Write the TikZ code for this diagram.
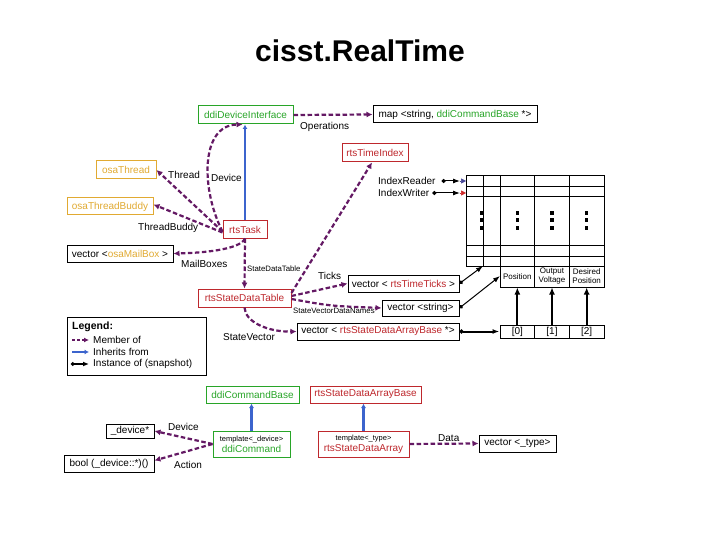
\documentclass[tikz,border=0pt]{standalone}
\usepackage{fontspec}
\setmainfont{Liberation Sans}
\usetikzlibrary{arrows.meta}
\definecolor{rred}{RGB}{190,40,45}
\definecolor{dgreen}{RGB}{40,165,40}
\definecolor{oyel}{RGB}{225,170,50}
\definecolor{mpur}{RGB}{100,25,100}
\definecolor{iblue}{RGB}{60,100,205}
\definecolor{rdblue}{RGB}{70,70,150}
\definecolor{wred}{RGB}{205,40,40}
\begin{document}
\begin{tikzpicture}[x=1pt,y=-1pt,
 box/.style={draw, line width=1pt, inner sep=1pt, minimum height=17pt, font=\fontsize{10}{11}\selectfont},
 rbox/.style={box, draw=rred, text=rred},
 gbox/.style={box, draw=dgreen, text=dgreen},
 obox/.style={box, draw=oyel, text=oyel},
 kbox/.style={box, draw=black, text=black},
 cell/.style={draw, line width=1pt, inner sep=0pt, minimum width=34.67pt, align=center},
 lbl/.style={font=\fontsize{10}{12}\selectfont, inner sep=0pt, anchor=west},
 slbl/.style={font=\fontsize{7.8}{9}\selectfont, inner sep=0pt, anchor=west},
 mem/.style={draw=mpur, line width=2.2pt, dash pattern=on 4.5pt off 2.5pt, -{Latex[length=6pt,width=6pt]}},
 inh/.style={draw=iblue, line width=2.4pt, -{Latex[length=4.5pt,width=5pt]}},
 inst/.style={draw=black, line width=1pt, {Circle[length=4pt]}-{Latex[length=7pt,width=5pt]}},
 instk/.style={inst, line width=2pt},
 arrk/.style={draw=black, line width=2pt, -{Latex[length=7pt,width=6pt]}},
]
\useasboundingbox (0,0) rectangle (720,540);
\fill[white] (0,0) rectangle (720,540);

\node[font=\fontsize{30}{36}\selectfont\bfseries, anchor=base, inner sep=0pt] (title) at (360,62) {cisst.RealTime};

% boxes
\node[gbox, minimum width=95pt, minimum height=18pt] (ddi) at (245.5,115) {ddiDeviceInterface};
\node[kbox, minimum width=164pt] (map) at (455,114.5) {map <string, \textcolor{dgreen}{ddiCommandBase} *>};
\node[rbox, minimum width=66pt, minimum height=18pt] (rti) at (375,153) {rtsTimeIndex};
\node[obox, minimum width=60pt, minimum height=18pt] (oth) at (126,170) {osaThread};
\node[obox, minimum width=86pt] (otb) at (110,206.5) {osaThreadBuddy};
\node[rbox, minimum width=44pt] (task) at (245,229.5) {rtsTask};
\node[kbox, minimum width=106pt] (vmb) at (120,253.5) {vector <\textcolor{oyel}{osaMailBox} >};
\node[rbox, minimum width=93pt, minimum height=18pt] (sdt) at (244.5,298) {rtsStateDataTable};
\node[kbox, minimum width=111pt] (vtt) at (403.5,283.5) {vector < \textcolor{rred}{rtsTimeTicks} >};
\node[kbox, minimum width=77pt, minimum height=16pt] (vstr) at (420.5,308) {vector <string>};
\node[kbox, minimum width=162pt] (vsda) at (378,331.5) {vector < \textcolor{rred}{rtsStateDataArrayBase} *>};
\node[gbox, minimum width=93pt] (cmdb) at (252.5,394.5) {ddiCommandBase};
\node[rbox, minimum width=111pt] (sdab) at (365.5,394.5) {rtsStateDataArrayBase};
\node[gbox, minimum width=77pt, minimum height=26pt, align=center] (cmd) at (251.5,444) {{\fontsize{7.5}{8}\selectfont\color{black}template<\_device>}\\ddiCommand};
\node[rbox, minimum width=91pt, minimum height=26pt, align=center] (sda) at (363.5,444) {{\fontsize{7.5}{8}\selectfont\color{black}template<\_type>}\\rtsStateDataArray};
\node[kbox, minimum width=77pt] (vty) at (517.5,443.5) {vector <\_type>};
\node[kbox, minimum width=48pt, minimum height=14pt] (dev) at (130,431) {\_device*};
\node[kbox, minimum width=90pt] (boo) at (109,463.5) {bool (\_device::*)()};

% table
\draw[line width=1pt] (466,176) rectangle (604,266);
\foreach \yy in {187,197,245,256} \draw[line width=1pt] (466,\yy) -- (604,\yy);
\foreach \xx in {483,500,534.67,569.33} \draw[line width=1pt] (\xx,176) -- (\xx,266);
\foreach \xx in {482,517.33,552,586.67} {
  \fill (\xx-1.6,213-2) rectangle (\xx+1.6,213+2);
  \fill (\xx-1.6,220.5-2) rectangle (\xx+1.6,220.5+2);
  \fill (\xx-1.6,228-2) rectangle (\xx+1.6,228+2);
}
\node[cell, minimum height=21pt, font=\fontsize{8}{9}\selectfont] (pos) at (517.33,276.5) {Position};
\node[cell, minimum height=21pt, font=\fontsize{8}{9}\selectfont] (outv) at (552,276.5) {Output\\Voltage};
\node[cell, minimum height=21pt, font=\fontsize{8}{9}\selectfont] (desp) at (586.67,276.5) {Desired\\Position};
\node[cell, minimum height=13pt, font=\fontsize{10}{11}\selectfont] (i0) at (517.33,331.5) {[0]};
\node[cell, minimum height=13pt, font=\fontsize{10}{11}\selectfont] (i1) at (552,331.5) {[1]};
\node[cell, minimum height=13pt, font=\fontsize{10}{11}\selectfont] (i2) at (586.67,331.5) {[2]};
\coordinate (c1) at (483,266);
\coordinate (c2) at (500,276);

% index reader / writer
\node[lbl] (ir) at (378,181) {IndexReader};
\node[lbl] (iw) at (378,193) {IndexWriter};
\coordinate (ira) at (460,181); \coordinate (irb) at (466,181);
\coordinate (iwa) at (460,193); \coordinate (iwb) at (466,193);
\draw[inst] ([xshift=6pt]ir.east) -- (ira);
\draw[inst] ([xshift=3pt]iw.east) -- (iwa);
\draw[draw=rdblue, line width=0.5pt, -{Triangle[length=5pt,width=5pt]}] (ira) -- (irb);
\draw[draw=wred, line width=0.5pt, -{Triangle[length=5pt,width=5pt]}] (iwa) -- (iwb);

% instance arrows
\draw[inst] (vtt.east) -- (c1);
\draw[inst] (vstr.east) -- (c2);
\draw[instk] (vsda.east) -- (i0.west);
\draw[arrk] (i0.north) -- (pos.south);
\draw[arrk, line width=1.3pt] (i1.north) -- (outv.south);
\draw[arrk] (i2.north) -- (desp.south);

% member edges
\draw[mem] (ddi.east) -- (map.west);
\node[lbl] (lops) at (300,127) {Operations};
\draw[mem] ([yshift=-2pt]task.west) .. controls (201,190) and (200,125) .. ([xshift=-3pt]ddi.south);
\draw[mem] ([yshift=-2pt]task.west) -- (oth.east);
\draw[mem] ([yshift=-3pt]task.west) -- ([yshift=2pt]otb.east);
\node[lbl] (lthr) at (168,175) {Thread};
\node[lbl] (ldev) at (211,178) {Device};
\node[lbl] (ltb) at (138,228) {ThreadBuddy};
\draw[mem] (task.south) .. controls (240,250) and (200,253) .. (vmb.east);
\node[lbl] (lmb) at (181,264) {MailBoxes};
\draw[mem] (task.south) -- (sdt.north);
\node[slbl] (lsdt) at (247,269) {StateDataTable};
\draw[mem] ([yshift=5pt]sdt.east) -- ([xshift=-3pt]rti.south);
\draw[mem] ([yshift=2pt]sdt.east) -- (vtt.west);
\node[lbl] (ltk) at (318,276) {Ticks};
\draw[mem] ([yshift=-1pt]sdt.east) .. controls (330,306) .. (vstr.west);
\node[slbl] (lsvdn) at (293,311) {StateVectorDataNames};
\draw[mem] (sdt.south) .. controls (245,322) and (268,332) .. (vsda.west);
\node[lbl] (lsv) at (223,337) {StateVector};

% inheritance
\draw[inh] (task.north) -- (task.north |- ddi.south);
\draw[inh] (cmd.north) -- (cmd.north |- cmdb.south);
\draw[inh] (sda.north) -- (sda.north |- sdab.south);

% bottom members
\draw[mem] (sda.east) -- (vty.west);
\node[lbl] (ldata) at (438,438) {Data};
\draw[mem] (cmd.west) -- (dev.east);
\draw[mem] (cmd.west) -- ([yshift=3pt]boo.east);
\node[lbl] (ldev2) at (168,427) {Device};
\node[lbl] (lact) at (174,465) {Action};

% legend
\node[draw, line width=1pt, minimum width=139pt, minimum height=58pt, inner sep=0pt] (leg) at (136.5,346) {};
\node[font=\fontsize{10.5}{12}\selectfont\bfseries, anchor=west, inner sep=0pt] (legt) at (72,327) {Legend:};
\coordinate (la1) at (72,340); \coordinate (lb1) at (89,340);
\coordinate (la2) at (72,352); \coordinate (lb2) at (89,352);
\coordinate (la3) at (71,364); \coordinate (lb3) at (89,364);
\draw[mem, line width=2pt, dash pattern=on 3pt off 2pt, -{Latex[length=5pt,width=5pt]}] (la1) -- (lb1);
\draw[inh, line width=2pt] (la2) -- (lb2);
\draw[inst, line width=1.6pt, {Circle[length=3.5pt]}-{Latex[length=6pt,width=5pt]}] (la3) -- (lb3);
\node[lbl] (lm) at (93,340) {Member of};
\node[lbl] (li) at (93,352) {Inherits from};
\node[lbl] (lin) at (93,364) {Instance of (snapshot)};
\end{tikzpicture}
\end{document}
